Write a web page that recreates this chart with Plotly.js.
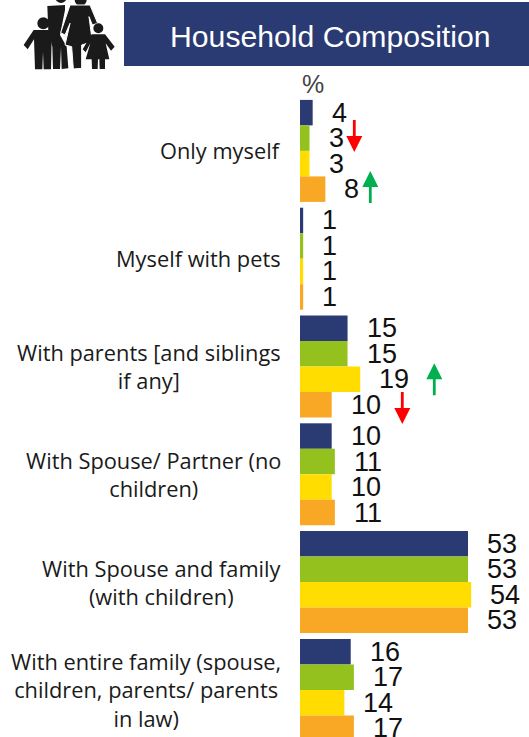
<!DOCTYPE html>
<html>
<head>
<meta charset="utf-8">
<script src="https://cdn.plot.ly/plotly-3.0.1.min.js"></script>
<style>html,body{margin:0;padding:0;background:#fff;overflow:hidden}</style>
</head>
<body>
<div id="chart" style="width:529px;height:737px"></div>
<script>
var categories = [
  "Only myself",
  "Myself with pets",
  "With parents [and siblings<br>if any]",
  "With Spouse/ Partner (no<br>children)",
  "With Spouse and family<br>(with children)",
  "With entire family (spouse,<br>children, parents/ parents<br>in law)"
];
var seriesA = [4, 1, 15, 10, 53, 16];
var seriesB = [3, 1, 15, 11, 53, 17];
var seriesC = [3, 1, 19, 10, 54, 14];
var seriesD = [8, 1, 10, 11, 53, 17];
var seriesValues = [seriesA, seriesB, seriesC, seriesD];
var seriesColors = ["#2A3A72", "#95C11F", "#FFDD00", "#F9A825"];
var titleText = "Household Composition";
var unitText = "%";

var W = 529, H = 737, L = 300, T = 97;
var PW = W - L, PH = H - T;
var PITCH = 107.8;
function xp(px) { return (px - L) / PW; }
function yp(py) { return 1 - (py - T) / PH; }
var positions = categories.map(function (_, i) { return i; });

var traces = seriesValues.map(function (vals, s) {
  return {
    type: "bar", orientation: "h", x: vals, y: positions,
    marker: { color: seriesColors[s] }, hoverinfo: "skip", showlegend: false
  };
});

var annotations = [];
categories.forEach(function (c, i) {
  annotations.push({
    xref: "paper", yref: "y", x: xp(282.5), y: i, xanchor: "right", yanchor: "middle",
    text: c, align: "center", showarrow: false,
    font: { family: "Open Sans", size: 21.8, color: "#1a1a1a" }
  });
});
var BARH = 0.2365;
seriesValues.forEach(function (vals, s) {
  vals.forEach(function (v, i) {
    annotations.push({
      xref: "x", yref: "y", x: v, y: i + (s - 1.5) * BARH, xanchor: "left", yanchor: "middle",
      xshift: 17, text: String(v), showarrow: false,
      font: { family: "Liberation Sans", size: 27, color: "#111" }
    });
  });
});
annotations.push({
  xref: "paper", yref: "paper", x: xp(330.5), y: yp(36), xanchor: "center", yanchor: "middle",
  text: titleText, showarrow: false, font: { family: "Liberation Sans", size: 30.2, color: "#fff" }
});
annotations.push({
  xref: "paper", yref: "paper", x: xp(300), y: yp(84), xanchor: "left", yanchor: "middle",
  text: unitText, showarrow: false, font: { family: "Liberation Sans", size: 25, color: "#444" }
});

var shapes = [];
shapes.push({ type: "rect", xref: "paper", yref: "paper", x0: xp(124), x1: xp(529), y0: yp(66), y1: yp(2),
  fillcolor: "#2A3A72", line: { width: 0 }, layer: "below" });

function poly(pts, col, lw, lc) {
  var d = pts.map(function (p, i) { return (i ? "L" : "M") + p[0] + "," + p[1]; }).join(" ") + " Z";
  shapes.push({ type: "path", xref: "paper", yref: "paper", path: d, fillcolor: col,
    line: { width: lw || 0, color: lc || col } });
}
function arrow(x, tip, dir, col) {
  var head = 16, tail = 32, hw = 8, sw = 1.4;
  poly([[x - sw, tip + dir * head], [x - hw, tip + dir * head], [x, tip], [x + hw, tip + dir * head],
        [x + sw, tip + dir * head], [x + sw, tip + dir * tail], [x - sw, tip + dir * tail]]
    .map(function (p) { return [xp(p[0]), yp(p[1])]; }), col);
}
arrow(354.3, 152, -1, "#FF0000");
arrow(370.3, 171, 1, "#00B050");
arrow(434.3, 363.3, 1, "#00B050");
arrow(402.3, 424, -1, "#FF0000");

function Z(p) { return [xp(p[0] / 3 + 15), yp(p[1] / 3)]; }
function circ(cx, cy, r, col) {
  shapes.push({ type: "circle", xref: "paper", yref: "paper",
    x0: xp((cx - r) / 3 + 15), x1: xp((cx + r) / 3 + 15), y0: yp((cy + r) / 3), y1: yp((cy - r) / 3),
    fillcolor: col, line: { width: 0 } });
}
var ink = "#1a1a1a";
circ(138, -8, 17, ink);
poly([[97,18],[150,15],[150,30],[135,105],[155,140],[160,205],[140,207],[138,140],[135,207],[114,207],[112,140],[100,95]].map(Z), ink);
circ(197, 0, 18, ink);
poly([[165,15],[225,15],[248,70],[232,75],[222,50],[232,125],[200,135],[200,205],[175,207],[170,140],[150,135],[165,70],[150,105],[137,98]].map(Z), ink, 1, "#fff");
poly([[56,90],[108,90],[138,128],[128,145],[110,118],[108,208],[86,208],[84,155],[82,208],[60,208],[57,118],[38,148],[26,135]].map(Z), ink);
circ(85, 70, 18, ink);
poly([[230,103],[270,103],[299,140],[288,152],[272,130],[283,178],[270,178],[270,207],[254,207],[253,178],[249,178],[248,207],[231,207],[230,178],[212,178],[226,130],[212,157],[203,148]].map(Z), ink);
circ(250, 85, 15, ink);

var layout = {
  width: W, height: H,
  margin: { l: L, r: 0, t: T, b: 0, pad: 0 },
  paper_bgcolor: "#fff", plot_bgcolor: "#fff",
  barmode: "group", bargap: 0.054, bargroupgap: 0,
  showlegend: false,
  xaxis: { range: [0, PW / 3.17], visible: false, fixedrange: true },
  yaxis: { range: [PH / PITCH - 0.5, -0.5], visible: false, fixedrange: true },
  annotations: annotations, shapes: shapes
};
Plotly.newPlot("chart", traces, layout, { displayModeBar: false, staticPlot: true });
</script>
</body>
</html>
